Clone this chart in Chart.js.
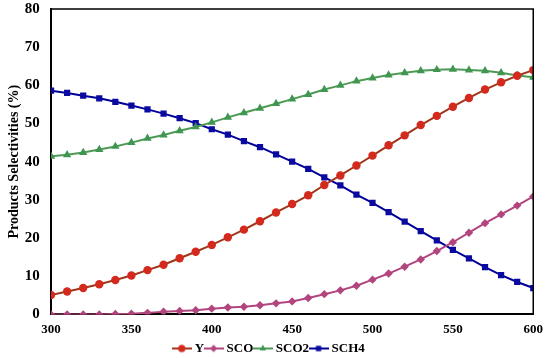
<!DOCTYPE html>
<html lang="en">
<head>
<meta charset="UTF-8">
<title>Products Selectivities</title>
<script src="https://cdn.jsdelivr.net/npm/chart.js@4.4.1/dist/chart.umd.min.js"></script>
<style>
  body { margin: 0; background: #fff; }
  #wrap { width: 550px; height: 358px; }
</style>
</head>
<body>
<div id="wrap"><canvas id="chart" width="550" height="358"></canvas></div>
<script>
// temperatures (x axis)
const temps = [300,310,320,330,340,350,360,370,380,390,400,410,420,430,440,450,
               460,470,480,490,500,510,520,530,540,550,560,570,580,590,600];

// series values (%)
const yVals = [5.1,6.0,6.9,7.9,9.0,10.2,11.6,13.0,14.7,16.4,18.2,20.2,22.2,24.4,26.7,28.9,
               31.2,33.9,36.4,39.0,41.6,44.3,46.9,49.6,52.0,54.4,56.7,58.9,60.8,62.5,64.0];
const scoVals = [0,0,0,0,0.1,0.2,0.4,0.7,0.9,1.1,1.5,1.8,2.0,2.4,2.9,3.4,
                 4.3,5.3,6.3,7.5,9.1,10.7,12.5,14.4,16.6,18.9,21.4,23.9,26.2,28.5,30.9];
const sco2Vals = [41.4,41.8,42.4,43.2,44.0,45.0,46.1,47.0,48.1,49.1,50.3,51.6,52.8,54.0,55.2,56.4,
                  57.6,58.9,60.0,61.1,61.9,62.7,63.3,63.8,64.1,64.2,64.0,63.8,63.3,62.6,62.1];
const sch4Vals = [58.6,58.0,57.3,56.6,55.7,54.7,53.7,52.6,51.4,50.1,48.5,47.1,45.4,43.8,41.9,40.0,
                  38.1,35.9,33.8,31.4,29.2,26.8,24.3,21.8,19.4,16.9,14.7,12.4,10.3,8.5,6.9];

const seriesNames = ['Y', 'SCO', 'SCO2', 'SCH4'];

function pts(vals) {
  return vals.map((v, i) => ({ x: temps[i], y: v }));
}

// legend icon: short line with the marker in the middle
function legendIcon(lineColor, fill, style, r) {
  const c = document.createElement('canvas');
  c.width = 20; c.height = 12;
  const g = c.getContext('2d');
  g.strokeStyle = lineColor; g.lineWidth = 2;
  g.beginPath(); g.moveTo(0, 6); g.lineTo(20, 6); g.stroke();
  g.fillStyle = fill;
  Chart.helpers.drawPoint(g, { pointStyle: style, radius: r, borderWidth: 0, rotation: 0 }, 10, 6);
  g.fill();
  return c;
}

const styles = [
  { line: '#A0361A', fill: '#D42A1E', style: 'circle', r: 4.2 },
  { line: '#B2457E', fill: '#B2457E', style: 'rectRot', r: 4.2 },
  { line: '#4E9A55', fill: '#3E9650', style: 'triangle', r: 4.8 },
  { line: '#000099', fill: '#0A0AA0', style: 'rect', r: 4.4 }
];
const allVals = [yVals, scoVals, sco2Vals, sch4Vals];

const datasets = seriesNames.map((name, k) => ({
  label: name,
  data: pts(allVals[k]),
  borderColor: styles[k].line,
  backgroundColor: styles[k].fill,
  pointBackgroundColor: styles[k].fill,
  pointBorderColor: styles[k].fill,
  pointStyle: styles[k].style,
  pointRadius: styles[k].r,
  pointBorderWidth: 0,
  borderWidth: 2,
  tension: 0,
  fill: false
}));

const serif = "'Liberation Serif', 'Times New Roman', serif";

new Chart(document.getElementById('chart'), {
  type: 'line',
  data: { datasets: datasets },
  options: {
    responsive: false,
    animation: false,
    layout: { padding: { left: 6, right: 16, top: 0, bottom: 0 } },
    plugins: {
      tooltip: { enabled: false },
      legend: {
        position: 'bottom',
        labels: {
          usePointStyle: true,
          padding: 3,
          color: '#000',
          font: { family: serif, size: 13, weight: 'bold' },
          generateLabels: (chart) => chart.data.datasets.map((ds, k) => ({
            text: ds.label,
            pointStyle: legendIcon(styles[k].line, styles[k].fill, styles[k].style, 3.5),
            fillStyle: styles[k].fill,
            strokeStyle: styles[k].line,
            lineWidth: 0,
            hidden: false,
            datasetIndex: k,
            fontColor: '#000'
          }))
        }
      }
    },
    scales: {
      x: {
        type: 'linear',
        min: 300, max: 600,
        grid: { display: false, drawTicks: false },
        border: { color: '#000', width: 2 },
        ticks: { stepSize: 50, color: '#000', padding: 7, font: { family: serif, size: 13, weight: 'bold' } },
        afterFit: (scale) => { scale.height -= 5; }
      },
      y: {
        min: 0, max: 80,
        grid: { display: false, drawTicks: false },
        border: { color: '#000', width: 2 },
        ticks: {
          stepSize: 10, color: '#000', padding: 0,
          font: { family: serif, size: 15, weight: 'bold' },
          callback: (v) => v + '   '
        },
        title: {
          display: true,
          text: 'Products Selectivities (%)',
          color: '#000',
          padding: { top: 0, bottom: 2 },
          font: { family: serif, size: 14, weight: 'bold' }
        }
      }
    }
  },
  plugins: [{
    id: 'legendTrim',
    beforeLayout(chart) {
      const lg = chart.legend;
      if (lg && !lg._trimmed) {
        const fit = lg.fit.bind(lg);
        lg.fit = function () { fit(); this.height -= 7; };
        lg._trimmed = true;
      }
    }
  }, {
    id: 'frame',
    afterDraw(chart) {
      const a = chart.chartArea, g = chart.ctx;
      g.save();
      g.strokeStyle = '#000';
      g.lineWidth = 1.5;
      g.beginPath();
      g.moveTo(a.left, a.top); g.lineTo(a.right, a.top); g.lineTo(a.right, a.bottom);
      g.stroke();
      g.restore();
    }
  }]
});
</script>
</body>
</html>
